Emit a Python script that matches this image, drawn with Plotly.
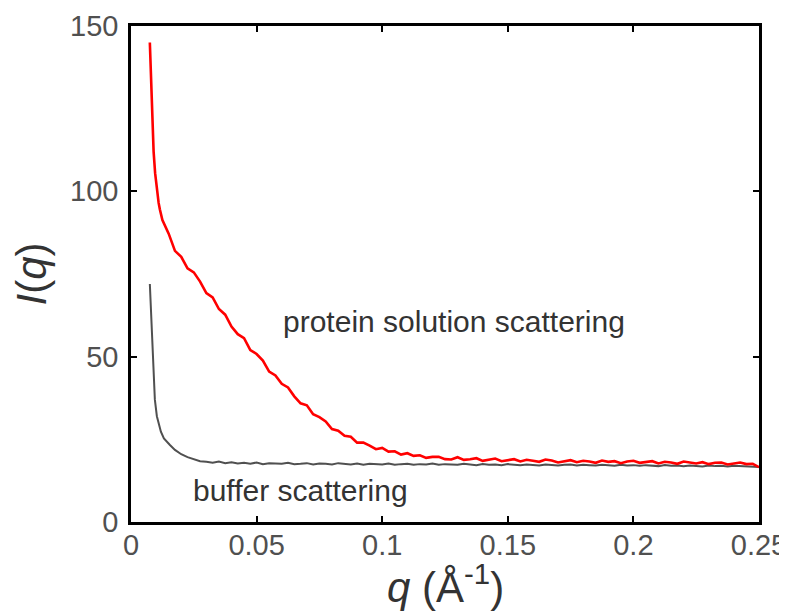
import plotly.graph_objects as go

# ---- data ----
protein_q = [0.0075, 0.0078, 0.0082, 0.0086, 0.0090, 0.0096, 0.0103, 0.0110, 0.0115,
             0.0125, 0.0150, 0.0175, 0.0200, 0.0225, 0.0250, 0.0275, 0.0300, 0.0325, 0.0350,
             0.0375, 0.0400, 0.0425, 0.0450, 0.0475, 0.0500, 0.0525, 0.0550, 0.0575, 0.0600,
             0.0625, 0.0650, 0.0675, 0.0700, 0.0725, 0.0750, 0.0775, 0.0800, 0.0825, 0.0850,
             0.0875, 0.0900, 0.0925, 0.0950, 0.0975, 0.1000, 0.1025, 0.1050, 0.1075, 0.1100,
             0.1125, 0.1150, 0.1175, 0.1200, 0.1225, 0.1250, 0.1275, 0.1300, 0.1325, 0.1350,
             0.1375, 0.1400, 0.1425, 0.1450, 0.1475, 0.1500, 0.1525, 0.1550, 0.1575, 0.1600,
             0.1625, 0.1650, 0.1675, 0.1700, 0.1725, 0.1750, 0.1775, 0.1800, 0.1825, 0.1850,
             0.1875, 0.1900, 0.1925, 0.1950, 0.1975, 0.2000, 0.2025, 0.2050, 0.2075, 0.2100,
             0.2125, 0.2150, 0.2175, 0.2200, 0.2225, 0.2250, 0.2275, 0.2300, 0.2325, 0.2350,
             0.2375, 0.2400, 0.2425, 0.2450, 0.2475, 0.2500]
protein_I = [145.0, 138.0, 128.0, 119.0, 112.0, 105.5, 100.5, 96.5, 94.5,
             91.3, 87.2, 82.0, 80.2, 76.7, 75.5, 72.7, 69.2, 67.9, 64.4,
             62.7, 59.1, 56.8, 55.6, 52.0, 50.8, 48.8, 45.5, 44.3, 41.8,
             40.7, 38.0, 35.9, 35.3, 32.6, 31.7, 30.4, 28.1, 27.6, 26.1,
             25.8, 24.0, 24.0, 23.1, 22.0, 22.4, 21.3, 21.4, 20.4, 20.8,
             20.0, 20.2, 19.4, 19.7, 19.7, 19.0, 18.9, 19.6, 18.8, 19.0,
             19.3, 18.5, 18.9, 19.2, 18.4, 18.6, 19.0, 18.3, 18.8, 18.5,
             18.2, 18.9, 18.6, 18.0, 18.4, 18.7, 18.1, 18.5, 18.3, 17.9,
             18.6, 18.2, 18.4, 17.8, 18.3, 18.5, 17.9, 18.1, 18.4, 17.7,
             18.2, 18.0, 17.6, 18.3, 17.9, 17.7, 18.1, 17.5, 17.9, 18.0,
             17.4, 17.8, 18.0, 17.5, 17.6, 16.6]

buffer_q = [0.0075, 0.0079, 0.0083, 0.0087, 0.0091, 0.0095, 0.0103, 0.0111, 0.0119,
            0.0131, 0.0143, 0.0155, 0.0175, 0.0200, 0.0225, 0.0250, 0.0275,
            0.0300, 0.0325, 0.0350, 0.0375, 0.0400, 0.0425, 0.0450, 0.0475, 0.0500,
            0.0525, 0.0550, 0.0575, 0.0600, 0.0625, 0.0650, 0.0675, 0.0700, 0.0725,
            0.0750, 0.0775, 0.0800, 0.0825, 0.0850, 0.0875, 0.0900, 0.0925, 0.0950,
            0.0975, 0.1000, 0.1025, 0.1050, 0.1075, 0.1100, 0.1125, 0.1150, 0.1175,
            0.1200, 0.1225, 0.1250, 0.1275, 0.1300, 0.1325, 0.1350, 0.1375, 0.1400,
            0.1425, 0.1450, 0.1475, 0.1500, 0.1525, 0.1550, 0.1575, 0.1600, 0.1625,
            0.1650, 0.1675, 0.1700, 0.1725, 0.1750, 0.1775, 0.1800, 0.1825, 0.1850,
            0.1875, 0.1900, 0.1925, 0.1950, 0.1975, 0.2000, 0.2025, 0.2050, 0.2075,
            0.2100, 0.2125, 0.2150, 0.2175, 0.2200, 0.2225, 0.2250, 0.2275, 0.2300,
            0.2325, 0.2350, 0.2375, 0.2400, 0.2425, 0.2450, 0.2475, 0.2500]
buffer_I = [72.0, 64.0, 56.0, 49.0, 43.0, 37.0, 32.0, 29.3, 27.3,
            25.3, 24.2, 23.3, 21.8, 20.5, 19.6, 18.9, 18.4,
            18.2, 17.9, 18.3, 17.8, 18.1, 17.7, 17.9, 17.6, 18.0,
            17.5, 17.8, 17.7, 17.6, 17.9, 17.5, 17.6, 17.8, 17.4,
            17.7, 17.6, 17.4, 17.8, 17.5, 17.4, 17.7, 17.3, 17.6,
            17.5, 17.4, 17.7, 17.3, 17.5, 17.6, 17.3, 17.5, 17.4,
            17.7, 17.3, 17.5, 17.4, 17.3, 17.6, 17.4, 17.2, 17.5,
            17.3, 17.4, 17.2, 17.5, 17.3, 17.2, 17.4, 17.3, 17.1,
            17.4, 17.3, 17.1, 17.3, 17.4, 17.1, 17.3, 17.2, 17.1,
            17.3, 17.2, 17.0, 17.3, 17.1, 17.2, 17.0, 17.2, 17.1,
            16.9, 17.2, 17.0, 17.1, 16.9, 17.1, 17.0, 16.8, 17.1,
            16.9, 17.0, 16.8, 17.0, 16.9, 16.8, 16.9, 16.6]

x_ticks = [0, 0.05, 0.1, 0.15, 0.2, 0.25]
x_tick_labels = ["0", "0.05", "0.1", "0.15", "0.2", "0.25"]
y_ticks = [0, 50, 100, 150]
y_tick_labels = ["0", "50", "100", "150"]

FONT = "Liberation Sans, Arial, sans-serif"

fig = go.Figure()
fig.add_trace(go.Scatter(x=buffer_q, y=buffer_I, mode="lines",
                         line=dict(color="#505050", width=2), showlegend=False))
fig.add_trace(go.Scatter(x=protein_q, y=protein_I, mode="lines",
                         line=dict(color="#ff0000", width=2.6), showlegend=False))

axis_common = dict(showline=True, linecolor="black", linewidth=2.5, mirror="ticks",
                   ticks="inside", ticklen=6, tickwidth=2, tickcolor="black",
                   showgrid=False, zeroline=False, automargin=False,
                   tickfont=dict(family=FONT, size=29, color="#505050"))

fig.update_xaxes(range=[0, 0.25], tickvals=x_ticks, ticktext=x_tick_labels,
                 ticklabelstandoff=-5, ticklabeloverflow="allow", **axis_common)
fig.update_yaxes(range=[0, 150], tickvals=y_ticks, ticktext=y_tick_labels,
                 ticklabelstandoff=4, ticklabeloverflow="allow", **axis_common)

fig.update_layout(
    width=787, height=612,
    margin=dict(l=123, r=36, t=18, b=98),
    plot_bgcolor="white", paper_bgcolor="white",
    annotations=[
        dict(text="protein solution scattering", x=0.1286, y=60.5, xref="x", yref="y",
             xanchor="center", yanchor="middle", showarrow=False,
             font=dict(family=FONT, size=30, color="#333333")),
        dict(text="buffer scattering", x=0.0673, y=9.6, xref="x", yref="y",
             xanchor="center", yanchor="middle", showarrow=False,
             font=dict(family=FONT, size=30, color="#333333")),
        dict(text="<i>I</i>(<i>q</i>)", x=-0.16, y=0.5, xref="paper", yref="paper",
             xanchor="center", yanchor="middle", textangle=-90, showarrow=False,
             font=dict(family=FONT, size=42, color="#333333")),
        dict(text="<i>q</i> (Å<sup>-1</sup>)", x=0.5, y=-0.125, xref="paper", yref="paper",
             xanchor="center", yanchor="middle", showarrow=False,
             font=dict(family=FONT, size=42, color="#333333")),
    ],
)

fig.write_html("out.html")
